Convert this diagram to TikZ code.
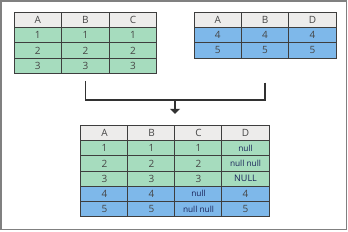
\documentclass[tikz,border=0pt]{standalone}
\usepackage{fontspec}
\setmainfont{Open Sans}
\usetikzlibrary{arrows.meta,positioning,calc,fit}

\definecolor{hdrgray}{RGB}{237,236,235}
\definecolor{rowgreen}{RGB}{166,220,190}
\definecolor{rowblue}{RGB}{126,184,234}
\definecolor{gridline}{RGB}{62,62,62}
\definecolor{cellink}{RGB}{70,70,70}
\definecolor{nullblue}{RGB}{24,34,88}
\definecolor{framegray}{RGB}{128,128,128}

\newcommand{\nul}[1]{\raisebox{-1.5pt}{\color{nullblue}\fontsize{8.3}{9}\selectfont #1}}

\begin{document}
\begin{tikzpicture}[
  x=1pt, y=-1pt,
  cell/.style={draw=gridline, line width=0.7pt, inner sep=0pt,
               minimum width=47.5pt, minimum height=15.2pt,
               font=\fontsize{10}{11}\selectfont, text=cellink},
  hdr/.style={cell, fill=hdrgray},
  grn/.style={cell, fill=rowgreen},
  blu/.style={cell, fill=rowblue},
  link/.style={draw=gridline!80!black, line width=1.3pt},
]
\useasboundingbox (0,0) rectangle (348,231);
\draw[framegray, line width=1.4pt] (1,1) rectangle (346.5,229.5);

% left input table
\foreach \c [count=\i] in {A,B,C}
  \node[hdr] (a-0-\i) at (14+47.6*\i-23.8, 20) {\c};
\foreach \r in {1,2,3}
  \foreach \i in {1,2,3}
    \node[grn] (a-\r-\i) at (14+47.6*\i-23.8, 20+15.2*\r) {\r};
\node[fit=(a-0-1)(a-3-3), inner sep=0pt] (tabA) {};

% right input table
\foreach \c [count=\i] in {A,B,D}
  \node[hdr] (b-0-\i) at (194+47.4*\i-23.7, 20) {\c};
\foreach \r in {4,5}
  \foreach \i in {1,2,3}
    \node[blu] (b-\r-\i) at (194+47.4*\i-23.7, 20+15.2*\r-45.6) {\r};
\node[fit=(b-0-1)(b-5-3), inner sep=0pt] (tabB) {};

% appended result
\foreach \c [count=\i] in {A,B,C,D}
  \node[hdr] (c-0-\i) at (81+47*\i-23.5, 133) {\c};
\foreach \v [count=\i] in {1,1,1,\nul{null}}
  \node[grn] (c-1-\i) at (81+47*\i-23.5, 148.2) {\v};
\foreach \v [count=\i] in {2,2,2,\nul{null null}}
  \node[grn] (c-2-\i) at (81+47*\i-23.5, 163.4) {\v};
\foreach \v [count=\i] in {3,3,3,\nul{\fontsize{9}{10}\selectfont NULL}}
  \node[grn] (c-3-\i) at (81+47*\i-23.5, 178.6) {\v};
\foreach \v [count=\i] in {4,4,\nul{null},4}
  \node[blu] (c-4-\i) at (81+47*\i-23.5, 193.8) {\v};
\foreach \v [count=\i] in {5,5,\nul{null null},5}
  \node[blu] (c-5-\i) at (81+47*\i-23.5, 209) {\v};
\node[fit=(c-0-1)(c-5-4), inner sep=0pt] (tabC) {};

% merge connector
\coordinate (join) at ($(tabC.north)+(0,-25)$);
\draw[link, shorten <=7pt] (tabA.south) |- (join);
\draw[link, shorten <=24pt] (tabB.south) |- (join);
\draw[link, -{Triangle[length=5pt, width=10pt]}, shorten >=11pt] (join) -- (tabC.north);

\end{tikzpicture}
\end{document}
